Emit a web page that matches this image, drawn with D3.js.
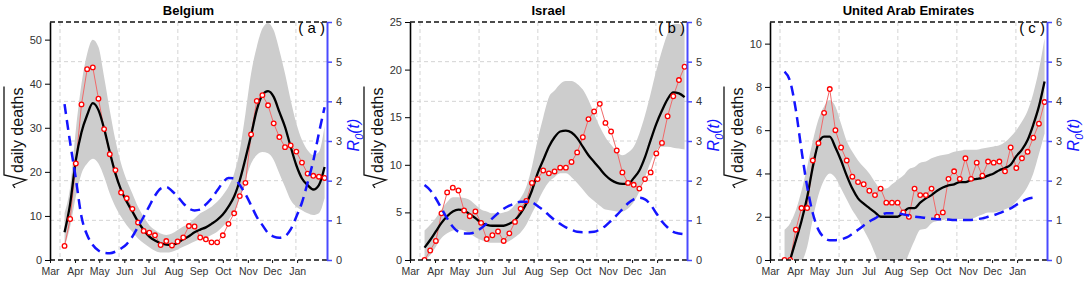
<!DOCTYPE html>
<html>
<head>
<meta charset="utf-8">
<script src="https://d3js.org/d3.v7.min.js"></script>
<style>
body { margin: 0; background: #fff; }
text { font-family: "Liberation Sans", Arial, sans-serif; }
</style>
</head>
<body>
<div id="chart"></div>
<script>
// weekly grid of observations starts on 19 March 2020
var weekStart = Date.UTC(2020, 2, 19);
var countries = ["Belgium", "Israel", "United Arab Emirates"];
var tags = ["( a )", "( b )", "( c )"];
var yMaxes = [54, 25, 11];
var yTickSets = [[0, 10, 20, 30, 40, 50], [0, 5, 10, 15, 20, 25], [0, 2, 4, 6, 8, 10]];
var r0Ticks = [0, 1, 2, 3, 4, 5, 6];
// vertical grid lines, in days after 1 March 2020
var gridDays = [12.4, 85.5, 158.3, 231.4, 304.5];

// Belgium
var belgiumObs = [3.2, 9.3, 21.9, 35.3, 43.3, 43.7, 36.6, 29.7, 24.0, 20.4, 15.3, 14.0, 11.6, 8.5, 6.6, 6.2, 5.6, 3.4, 4.3, 3.3, 4.2, 5.1, 7.7, 7.6, 5.1, 4.7, 4.0, 4.0, 5.6, 8.2, 10.6, 14.5, 17.5, 28.5, 36.1, 37.4, 35.1, 31.0, 27.9, 25.6, 26.0, 24.6, 22.1, 19.6, 19.1, 18.9, 18.6];
var belgiumFit = [6.3, 12.8, 22.7, 29.0, 32.9, 35.6, 34.0, 29.8, 24.5, 19.6, 15.9, 13.2, 11.0, 8.7, 6.8, 5.3, 4.4, 3.8, 3.5, 3.4, 3.9, 4.7, 5.4, 6.3, 6.9, 7.4, 8.2, 9.1, 10.3, 12.1, 14.4, 18.1, 23.0, 28.3, 34.0, 37.4, 38.3, 37.0, 33.6, 30.2, 25.7, 21.5, 18.5, 17.0, 16.0, 17.0, 21.1];
var belgiumLow = [3.0, 7.6, 14.4, 19.6, 21.9, 23.0, 21.9, 18.9, 15.1, 12.1, 9.8, 7.9, 6.4, 4.9, 3.8, 2.9, 2.1, 1.7, 1.7, 1.9, 2.4, 3.0, 3.6, 4.2, 4.7, 5.1, 5.7, 6.4, 7.6, 9.1, 11.0, 14.0, 18.1, 21.9, 23.8, 24.5, 24.2, 22.7, 19.6, 16.6, 13.6, 12.1, 11.3, 10.6, 10.2, 10.6, 14.0];
var belgiumHigh = [10.6, 16.6, 29.5, 40.0, 46.8, 50.0, 48.3, 41.5, 34.0, 27.2, 21.9, 18.1, 15.1, 12.1, 9.8, 7.9, 6.8, 6.0, 5.7, 6.0, 6.8, 7.6, 8.3, 9.4, 10.6, 11.3, 12.1, 13.2, 14.7, 16.6, 19.6, 24.9, 33.2, 42.3, 48.3, 52.5, 53.8, 52.1, 47.6, 42.3, 36.3, 31.0, 27.2, 24.9, 23.8, 24.5, 30.4];
var belgiumR0 = [3.93, 2.95, 2.05, 1.09, 0.63, 0.38, 0.24, 0.18, 0.17, 0.21, 0.29, 0.4, 0.59, 0.84, 1.09, 1.36, 1.62, 1.8, 1.84, 1.74, 1.6, 1.43, 1.3, 1.25, 1.27, 1.4, 1.55, 1.75, 1.95, 2.07, 2.06, 1.89, 1.66, 1.38, 1.09, 0.88, 0.68, 0.59, 0.56, 0.6, 0.77, 1.09, 1.45, 1.95, 2.5, 3.2, 3.85];

// Israel
var israelObs = [0, 1.0, 2.0, 4.9, 7.1, 7.6, 7.3, 5.2, 4.6, 5.1, 3.9, 2.2, 2.6, 3.0, 2.0, 2.8, 4.0, 5.4, 6.2, 8.1, 8.5, 9.4, 9.1, 9.3, 9.7, 9.7, 10.3, 11.3, 12.9, 14.8, 15.6, 16.4, 14.4, 13.5, 11.5, 9.2, 8.1, 7.9, 7.5, 8.5, 9.2, 11.2, 12.3, 15.1, 17.2, 18.9, 20.3];
var israelFit = [1.3, 2.1, 3.0, 3.9, 4.6, 5.1, 5.3, 5.2, 4.8, 4.4, 3.9, 3.7, 3.6, 3.6, 3.6, 3.8, 4.2, 4.9, 5.9, 7.3, 9.1, 10.5, 11.9, 12.9, 13.5, 13.6, 13.4, 12.8, 11.9, 11.0, 10.3, 9.6, 8.9, 8.4, 8.1, 8.0, 8.0, 8.6, 9.4, 10.8, 12.6, 14.3, 15.7, 16.9, 17.6, 17.5, 17.1];
var israelLow = [0, 0.5, 1.4, 2.3, 2.8, 3.1, 3.2, 3.1, 2.8, 2.4, 2.1, 1.9, 1.8, 1.8, 1.8, 2.0, 2.4, 2.9, 3.7, 4.9, 6.1, 7.3, 8.2, 8.7, 9.1, 9.1, 8.7, 8.1, 7.4, 6.7, 6.2, 5.7, 5.3, 5.2, 5.1, 5.1, 5.4, 6.1, 7.2, 8.7, 10.3, 11.5, 11.9, 11.9, 11.8, 11.7, 11.6];
var israelHigh = [3.1, 3.7, 4.4, 5.3, 6.1, 6.6, 6.6, 6.5, 6.3, 5.8, 5.3, 5.1, 4.9, 4.9, 5.0, 5.2, 5.8, 6.5, 7.7, 9.8, 12.6, 15.0, 17.1, 17.8, 18.5, 18.8, 18.8, 18.5, 17.9, 16.8, 15.4, 14.0, 12.9, 12.1, 11.4, 11.0, 11.3, 11.9, 13.3, 15.2, 17.5, 19.9, 22.0, 23.8, 24.8, 24.8, 24.1];
var israelR0 = [1.89, 1.76, 1.55, 1.3, 1.05, 0.84, 0.71, 0.67, 0.67, 0.71, 0.8, 0.92, 1.05, 1.18, 1.29, 1.37, 1.43, 1.47, 1.47, 1.45, 1.36, 1.26, 1.13, 1.01, 0.91, 0.82, 0.76, 0.71, 0.7, 0.7, 0.71, 0.77, 0.86, 0.99, 1.13, 1.28, 1.43, 1.53, 1.57, 1.53, 1.39, 1.18, 0.97, 0.82, 0.71, 0.67, 0.65];

// United Arab Emirates
var uaeObs = [0, 0, 1.4, 2.4, 2.4, 4.6, 5.4, 6.8, 7.9, 6.0, 5.2, 4.6, 3.85, 3.6, 3.5, 3.2, 3.0, 3.3, 2.65, 2.65, 2.65, 2.2, 2.0, 3.3, 3.0, 3.0, 3.3, 2.0, 2.2, 3.75, 4.1, 3.75, 4.7, 3.75, 4.5, 3.9, 4.55, 4.5, 4.55, 4.1, 5.2, 4.25, 4.7, 5.0, 5.65, 6.3, 7.3];
var uaeFit = [-1.1, 0, 0.9, 1.8, 2.9, 4.3, 5.4, 5.7, 5.7, 5.2, 4.6, 3.9, 3.3, 2.85, 2.6, 2.4, 2.2, 2.0, 2.0, 2.0, 2.0, 2.2, 2.4, 2.4, 2.65, 2.85, 3.0, 3.2, 3.35, 3.45, 3.5, 3.6, 3.6, 3.7, 3.75, 3.8, 3.9, 4.0, 4.15, 4.25, 4.4, 4.8, 5.1, 5.55, 6.25, 7.1, 8.25];
var uaeLow = [-0.3, -0.3, -0.3, -0.1, 0.6, 1.9, 3.0, 3.7, 4.0, 3.8, 3.3, 2.8, 2.3, 1.9, 1.4, 0.9, 0.3, -0.3, -0.3, -0.3, -0.3, -0.3, 0.3, 0.9, 1.4, 1.45, 1.7, 1.8, 1.85, 1.9, 1.9, 1.9, 1.9, 1.9, 2.0, 2.1, 2.2, 2.2, 2.25, 2.35, 2.45, 2.7, 3.0, 3.4, 4.0, 4.9, 5.85];
var uaeHigh = [1.4, 1.7, 2.3, 3.2, 4.3, 5.5, 6.5, 7.1, 7.4, 7.1, 6.3, 5.5, 5.0, 4.6, 4.3, 4.0, 3.6, 3.3, 3.3, 3.5, 3.7, 3.9, 4.2, 4.3, 4.5, 4.55, 4.7, 4.8, 4.85, 4.9, 5.0, 5.05, 5.1, 5.1, 5.1, 5.15, 5.2, 5.25, 5.3, 5.45, 5.7, 6.0, 6.4, 6.9, 7.7, 8.8, 10.25];
var uaeR0 = [4.75, 4.5, 3.78, 2.77, 1.85, 1.18, 0.76, 0.57, 0.5, 0.5, 0.52, 0.57, 0.66, 0.76, 0.87, 0.97, 1.05, 1.13, 1.18, 1.18, 1.18, 1.15, 1.12, 1.09, 1.08, 1.06, 1.04, 1.03, 1.03, 1.02, 1.01, 1.01, 1.01, 1.01, 1.03, 1.05, 1.09, 1.13, 1.18, 1.24, 1.3, 1.39, 1.47, 1.54, 1.57];

var panels = [
  {obs: belgiumObs, fit: belgiumFit, low: belgiumLow, high: belgiumHigh, r0: belgiumR0},
  {obs: israelObs, fit: israelFit, low: israelLow, high: israelHigh, r0: israelR0},
  {obs: uaeObs, fit: uaeFit, low: uaeLow, high: uaeHigh, r0: uaeR0}
];

var W = 277, H = 238, TOP = 22;
var lefts = [50, 410, 770];

var svg = d3.select("#chart")
  .append("svg")
  .attr("width", 1084)
  .attr("height", 283);

var x = d3.scaleUtc()
  .domain([Date.UTC(2020, 2, 1), Date.UTC(2021, 1, 7)])
  .range([0, W]);
var r = d3.scaleLinear().domain([0, 6]).range([H, 0]);

function weekDate(i) { return d3.utcDay.offset(new Date(weekStart), 7 * i); }
function dayDate(d) { return d3.utcHour.offset(new Date(Date.UTC(2020, 2, 1)), Math.round(d * 24)); }

panels.forEach(function (p, k) {
  var g = svg.append("g").attr("transform", "translate(" + lefts[k] + "," + TOP + ")");
  var y = d3.scaleLinear().domain([0, yMaxes[k]]).range([H, 0]);

  g.append("clipPath").attr("id", "clip" + k)
    .append("rect").attr("width", W).attr("height", H);

  // grid
  g.selectAll(".hgrid").data([1, 2, 3, 4, 5]).enter().append("line")
    .attr("x1", 0).attr("x2", W)
    .attr("y1", function (d) { return r(d); }).attr("y2", function (d) { return r(d); })
    .style("stroke", "#d4d4d4").style("stroke-dasharray", "4,3");
  g.selectAll(".vgrid").data(gridDays).enter().append("line")
    .attr("x1", function (d) { return x(dayDate(d)); }).attr("x2", function (d) { return x(dayDate(d)); })
    .attr("y1", 0).attr("y2", H)
    .style("stroke", "#d4d4d4").style("stroke-dasharray", "4,3");

  var plot = g.append("g").attr("clip-path", "url(#clip" + k + ")");

  // confidence band
  var area = d3.area()
    .x(function (d, i) { return x(weekDate(i)); })
    .y0(function (d, i) { return y(p.low[i]); })
    .y1(function (d) { return y(d); })
    .curve(d3.curveMonotoneX);
  plot.append("path").datum(p.high).attr("d", area).style("fill", "#cdcdcd");

  var line = d3.line()
    .x(function (d, i) { return x(weekDate(i)); })
    .y(function (d) { return y(d); });

  // observed points
  plot.append("path").datum(p.obs).attr("d", line)
    .style("fill", "none").style("stroke", "#f06a6a").style("stroke-width", 1);

  // fitted curve
  plot.append("path").datum(p.fit).attr("d", line.curve(d3.curveMonotoneX))
    .style("fill", "none").style("stroke", "#000").style("stroke-width", 2.3);

  plot.selectAll(".pt").data(p.obs).enter().append("circle")
    .attr("cx", function (d, i) { return x(weekDate(i)); })
    .attr("cy", function (d) { return y(d); })
    .attr("r", 2.3)
    .style("fill", "#fff").style("stroke", "#ff0000").style("stroke-width", 1.3);

  // R0(t)
  var rline = d3.line()
    .x(function (d, i) { return x(weekDate(i)); })
    .y(function (d) { return r(d); })
    .curve(d3.curveMonotoneX);
  plot.append("path").datum(p.r0).attr("d", rline)
    .style("fill", "none").style("stroke", "#1414ff").style("stroke-width", 2.5)
    .style("stroke-dasharray", "10,6");

  // borders
  [0, H].forEach(function (yy) {
    g.append("line").attr("x1", 0).attr("x2", W).attr("y1", yy).attr("y2", yy)
      .style("stroke", "#111").style("stroke-width", 1.3).style("stroke-dasharray", "5,3");
  });

  // axes
  var xa = g.append("g").attr("transform", "translate(0," + H + ")")
    .call(d3.axisBottom(x)
      .tickValues(d3.utcMonth.range(new Date(Date.UTC(2020, 2, 1)), new Date(Date.UTC(2021, 0, 2))))
      .tickFormat(d3.utcFormat("%b"))
      .tickSize(3).tickPadding(5));
  xa.select(".domain").remove();
  xa.selectAll("text").style("font-size", "10.5px").style("fill", "#333");
  xa.selectAll("line").style("stroke", "#111");

  var ya = g.append("g")
    .call(d3.axisLeft(y).tickValues(yTickSets[k]).tickSize(5).tickSizeOuter(0).tickPadding(3));
  ya.select(".domain").style("stroke", "#000").style("stroke-width", 1.6);
  ya.selectAll("text").style("font-size", "11px").style("fill", "#333");

  var ra = g.append("g").attr("transform", "translate(" + W + ",0)")
    .call(d3.axisRight(r).tickValues(r0Ticks).tickFormat(d3.format("d"))
      .tickSize(5).tickSizeOuter(0).tickPadding(4));
  ra.select(".domain").style("stroke", "#4a4aff").style("stroke-width", 2);
  ra.selectAll("line").style("stroke", "#4a4aff").style("stroke-width", 1.5);
  ra.selectAll("text").style("font-size", "11px").style("fill", "#333");

  // titles
  g.append("text")
    .attr("x", W / 2).attr("y", -7)
    .attr("text-anchor", "middle")
    .style("font-size", "13px").style("font-weight", "bold")
    .text(countries[k]);
  g.append("text")
    .attr("x", W - 2).attr("y", 11)
    .attr("text-anchor", "end")
    .style("font-size", "15px")
    .text(tags[k]);

  // left label with square root
  var lab = g.append("g").attr("transform", "translate(-27," + (H - 87) + ") rotate(-90)");
  var t = lab.append("text").attr("x", 0).attr("y", 0)
    .style("font-size", "16px").style("fill", "#111")
    .text("daily deaths");
  var len = t.node().getComputedTextLength();
  lab.append("path")
    .attr("d", "M-15,-8 L-12,-10 L-7,3 L-2,-19 H" + (len + 1))
    .style("fill", "none").style("stroke", "#111").style("stroke-width", 1.3);

  // right label
  var rl = g.append("text")
    .attr("transform", "translate(" + (W + 32) + "," + (H / 2 - 6) + ") rotate(-90)")
    .attr("text-anchor", "middle")
    .style("font-size", "16px").style("font-style", "italic").style("fill", "#1414ff");
  rl.append("tspan").text("R");
  rl.append("tspan").attr("dy", 4).style("font-size", "11px").text("0");
  rl.append("tspan").attr("dy", -4).text("(t)");
});
</script>
</body>
</html>
